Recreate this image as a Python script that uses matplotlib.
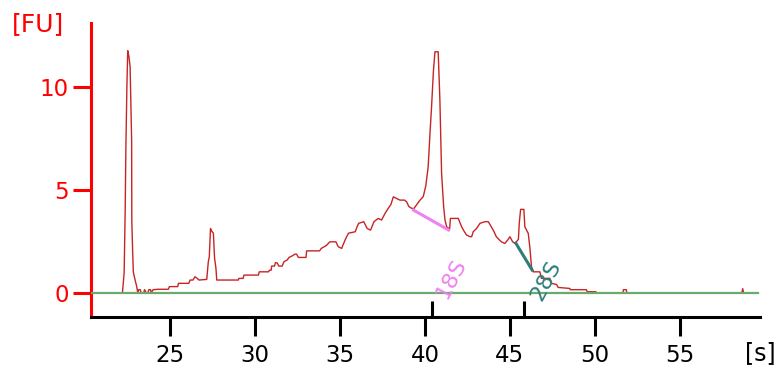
import matplotlib
matplotlib.use("Agg")
import matplotlib.pyplot as plt

# electropherogram trace, migration time [s] vs fluorescence [FU]
time_s = [
    22.0, 22.2, 22.3, 22.36, 22.4, 22.46, 22.51, 22.58, 22.65, 22.7, 22.74, 22.75,
    22.8, 22.84, 22.95, 23.04, 23.1, 23.15, 23.25, 23.3, 23.45, 23.5, 23.6, 23.7,
    23.75, 23.85, 23.9, 24.0, 24.3, 24.9, 24.96, 25.45, 25.5, 26.1, 26.18, 26.35,
    26.47, 26.6, 26.7, 27.16, 27.25, 27.31, 27.38, 27.45, 27.55, 27.62, 27.7, 27.75,
    29.02, 29.05, 29.3, 29.35, 30.2, 30.25, 30.8, 30.85, 30.95, 30.98, 31.15, 31.2,
    31.3, 31.4, 31.6, 31.7, 31.9, 32.0, 32.2, 32.35, 32.45, 32.55, 33.0, 33.04,
    33.8, 33.9, 34.2, 34.4, 34.76, 34.9, 35.1, 35.3, 35.5, 35.9, 36.0, 36.1,
    36.4, 36.6, 36.8, 37.0, 37.25, 37.45, 37.65, 37.84, 38.0, 38.14, 38.3, 38.53,
    38.8, 38.92, 39.05, 39.22, 39.35, 39.5, 39.7, 39.9, 40.05, 40.19, 40.3, 40.39,
    40.5, 40.59, 40.78, 40.85, 40.88, 40.93, 40.98, 41.1, 41.18, 41.28, 41.45, 41.5,
    41.96, 42.16, 42.3, 42.45, 42.65, 42.75, 42.84, 43.04, 43.24, 43.53, 43.73, 43.9,
    44.05, 44.2, 44.35, 44.5, 44.7, 44.9, 45.0, 45.16, 45.3, 45.5, 45.55, 45.63,
    45.82, 45.88, 46.08, 46.18, 46.27, 46.37, 46.76, 46.86, 47.35, 47.45, 47.75, 47.84,
    48.53, 48.55, 49.5, 49.55, 50.06, 50.1, 51.65, 51.68, 51.85, 51.88, 58.65, 58.7,
    58.75, 59.2,
]
fu = [
    0.0, 0.0, 1.0, 4.0, 7.0, 10.0, 11.78, 11.5, 11.0, 9.0, 7.4, 3.5,
    2.0, 1.0, 0.6, 0.3, 0.0, 0.15, 0.15, 0.0, 0.0, 0.15, 0.0, 0.0,
    0.15, 0.15, 0.0, 0.15, 0.17, 0.17, 0.3, 0.3, 0.46, 0.46, 0.62, 0.62,
    0.78, 0.7, 0.62, 0.65, 1.5, 1.75, 3.13, 3.0, 2.9, 1.69, 1.2, 0.62,
    0.62, 0.7, 0.7, 0.86, 0.86, 1.02, 1.02, 1.1, 1.1, 1.3, 1.3, 1.46,
    1.46, 1.3, 1.3, 1.51, 1.6, 1.72, 1.8, 1.88, 1.88, 1.72, 1.72, 2.04,
    2.04, 2.16, 2.3, 2.48, 2.48, 2.24, 2.16, 2.57, 2.9, 2.97, 3.2, 3.38,
    3.46, 3.13, 3.05, 3.46, 3.62, 3.54, 3.86, 4.11, 4.3, 4.67, 4.6, 4.51,
    4.51, 4.43, 4.2, 4.11, 4.1, 4.27, 4.5, 4.68, 5.2, 6.13, 7.8, 9.06,
    10.8, 11.73, 11.73, 10.0, 9.38, 7.5, 5.81, 4.2, 3.54, 3.21, 3.1, 3.62,
    3.62, 3.21, 3.0, 2.81, 2.73, 2.73, 2.97, 3.13, 3.38, 3.46, 3.46, 3.21,
    3.0, 2.73, 2.6, 2.48, 2.4, 2.6, 2.73, 2.48, 2.4, 2.6, 3.38, 4.06,
    4.06, 3.21, 2.89, 2.16, 1.27, 1.02, 1.02, 0.7, 0.7, 0.46, 0.4, 0.26,
    0.21, 0.15, 0.15, 0.05, 0.05, 0.0, 0.0, 0.15, 0.15, 0.0, 0.0, 0.2,
    0.0, 0.0,
]

# peak baselines for the ribosomal fragments
rrna_names = ["18S", "28S"]
rrna_marker_s = [40.4, 45.85]
rrna_base_x = [[39.25, 41.47], [45.3, 46.35]]
rrna_base_y = [[4.06, 3.02], [2.48, 1.05]]
rrna_label_xy = [(41.55, 0.7), (47.1, 0.62)]
rrna_colors = ["#ee82ee", "#2f7d7a"]

x_ticks = [25, 30, 35, 40, 45, 50, 55]
y_ticks = [0, 5, 10]

fig = plt.figure(figsize=(7.76, 3.7), dpi=100)
ax = fig.add_axes([0.1173, 0.1432, 0.8617, 0.7946])

ax.plot(time_s, fu, color="#c82424", lw=1.0, zorder=2)
ax.axhline(0, xmin=0.0, xmax=0.998, color="#6aaa6a", lw=1.6, zorder=3)

for name, xm, bx, by, (lx, ly), c in zip(rrna_names, rrna_marker_s, rrna_base_x,
                                         rrna_base_y, rrna_label_xy, rrna_colors):
    ax.plot(bx, by, color=c, lw=2.2, solid_capstyle="butt", zorder=4)
    ax.text(lx, ly, name, color=c, fontsize=16, rotation=62,
            ha="center", va="center", zorder=4)
    ax.plot([xm, xm], [0, 0.055], transform=ax.get_xaxis_transform(),
            color="black", lw=2.2, solid_capstyle="butt", clip_on=False)

ax.set_xlim(20.35, 59.7)
ax.set_ylim(-1.18, 13.13)
ax.set_xticks(x_ticks)
ax.set_yticks(y_ticks)

for s in ["top", "right"]:
    ax.spines[s].set_visible(False)
ax.spines["left"].set_color("#ff0000")
ax.spines["left"].set_linewidth(2.2)
ax.spines["bottom"].set_color("black")
ax.spines["bottom"].set_linewidth(2.2)

ax.tick_params(axis="x", direction="out", length=13.5, width=2.2, colors="black",
               labelsize=16.5, pad=6)
ax.tick_params(axis="y", direction="out", length=13, width=2.2, colors="#ff0000",
               labelcolor="#ff0000", labelsize=16.5, pad=3)

fig.text(0.015, 0.935, "[FU]", color="#ff0000", fontsize=18, ha="left", va="center")
fig.text(0.999, 0.045, "[s]", color="black", fontsize=17, ha="right", va="center")

fig.savefig("out.png", dpi=100)
